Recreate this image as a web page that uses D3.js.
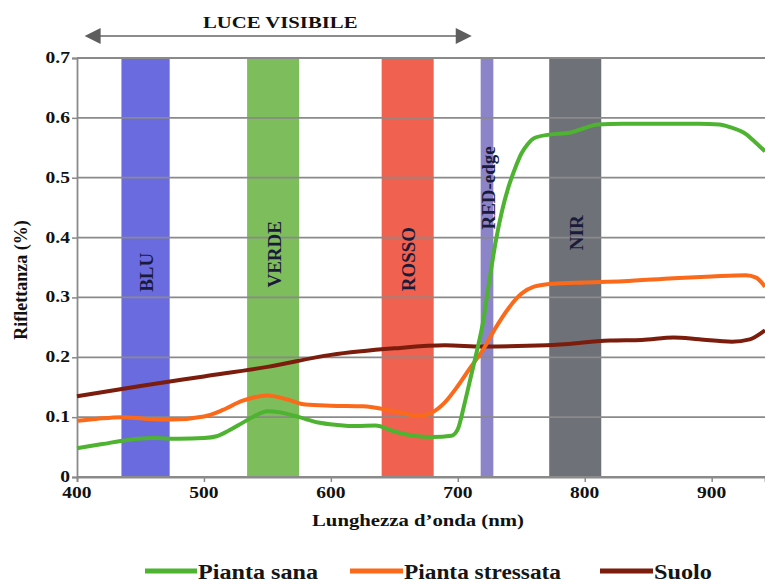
<!DOCTYPE html>
<html>
<head>
<meta charset="utf-8">
<script src="https://cdn.jsdelivr.net/npm/d3@7"></script>
<style>
  html, body { margin: 0; padding: 0; background: #fff; }
  svg { display: block; }
  svg text { font-family: "Liberation Serif", "DejaVu Serif", serif; }
</style>
</head>
<body>
<svg id="chart" width="765" height="582"></svg>
<script>
// Spectral reflectance curves (wavelength in nm, reflectance 0-1)
const sanaNm = [400,420,440,460,480,500,510,520,530,540,550,560,575,590,605,620,635,650,665,680,695,700,705,710,715,720,725,730,735,740,745,750,755,760,772,788,800,810,830,860,890,906,915,927,935,942];
const sana   = [0.048,0.055,0.062,0.065,0.064,0.065,0.068,0.078,0.090,0.102,0.110,0.108,0.100,0.091,0.087,0.085,0.086,0.076,0.069,0.067,0.069,0.080,0.120,0.165,0.210,0.260,0.330,0.395,0.446,0.485,0.515,0.540,0.556,0.566,0.572,0.575,0.583,0.589,0.590,0.590,0.590,0.589,0.584,0.573,0.558,0.544];

const stressNm = [400,415,435,455,475,500,515,530,550,565,580,600,625,650,670,680,690,700,710,720,730,740,750,760,775,800,830,870,900,927,935,942];
const stress   = [0.094,0.097,0.100,0.097,0.096,0.101,0.112,0.127,0.136,0.130,0.121,0.119,0.118,0.110,0.102,0.108,0.125,0.152,0.183,0.213,0.250,0.282,0.306,0.318,0.323,0.325,0.327,0.332,0.335,0.337,0.333,0.318];

const suoloNm = [400,450,500,550,600,650,690,720,770,820,845,870,890,916,930,942];
const suolo   = [0.135,0.152,0.168,0.184,0.204,0.215,0.220,0.218,0.220,0.228,0.229,0.233,0.230,0.226,0.230,0.245];

// Spectral bands: label, start nm, end nm
const bandNames = ["BLU", "VERDE", "ROSSO", "RED-edge", "NIR"];
const bandStart = [435, 534, 640, 718, 772];
const bandEnd   = [473, 575, 681, 728, 813];
const bandLabelCenter = [0.342, 0.372, 0.364, 0.483, 0.408];

const xTicks = [400, 500, 600, 700, 800, 900];
const yTicks = [0, 0.1, 0.2, 0.3, 0.4, 0.5, 0.6, 0.7];

const seriesNames = ["Pianta sana", "Pianta stressata", "Suolo"];
const visibleRange = [406, 711];

const bandColors = ["#6b6be0", "#7dbd5c", "#f0624f", "#8c84c8", "#6f7178"];
const seriesColors = ["#4db331", "#fb6a1a", "#7b1c0c"];
const FONT = "'Liberation Serif', 'DejaVu Serif', serif";
const STRETCH = 1.22;

const svg = d3.select("#chart");
const x = d3.scaleLinear().domain([400, 942]).range([77, 765]);
const y = d3.scaleLinear().domain([0, 0.7]).range([477, 58]);

// horizontal text helper (serif glyphs drawn slightly wide)
function htext(g, tx, ty, str, size, weight, anchor, fill) {
  return g.append("text")
    .attr("transform", `translate(${tx},${ty}) scale(${STRETCH},1)`)
    .attr("text-anchor", anchor)
    .style("font-family", FONT)
    .style("font-size", size + "px")
    .style("font-weight", weight)
    .attr("fill", fill || "#111")
    .text(str);
}

// bands
const bands = svg.append("g");
bandNames.forEach((name, i) => {
  bands.append("rect")
    .attr("x", x(bandStart[i]))
    .attr("y", y(0.7))
    .attr("width", x(bandEnd[i]) - x(bandStart[i]))
    .attr("height", y(0) - y(0.7))
    .attr("fill", bandColors[i]);
});

// gridlines
svg.append("g")
  .selectAll("line")
  .data(yTicks.slice(1))
  .join("line")
  .attr("x1", x(400)).attr("x2", 765)
  .attr("y1", d => y(d)).attr("y2", d => y(d))
  .attr("stroke", "#8a8a8a").attr("stroke-width", 1.8);

// axes
const yAxis = svg.append("g").attr("transform", `translate(${x(400)},0)`)
  .call(d3.axisLeft(y).tickValues(yTicks).tickSize(5).tickFormat(""));
const xAxis = svg.append("g").attr("transform", `translate(0,${y(0)})`)
  .call(d3.axisBottom(x).tickValues(xTicks).tickSize(5).tickFormat(""));
[yAxis, xAxis].forEach(a => {
  a.select(".domain").attr("stroke", "#8a8a8a").attr("stroke-width", 1.8);
  a.selectAll(".tick line").attr("stroke", "#8a8a8a").attr("stroke-width", 1.5);
});
// x axis line across the full width
svg.append("line").attr("x1", x(400)).attr("x2", 765)
  .attr("y1", y(0)).attr("y2", y(0))
  .attr("stroke", "#8a8a8a").attr("stroke-width", 1.8);

const labels = svg.append("g");
yTicks.forEach(v => {
  const s = v === 0 ? "0" : v.toFixed(1);
  htext(labels, 70, y(v) + 5, s, 16, "bold", "end");
});
xTicks.forEach(v => {
  htext(labels, x(v), 498, String(v), 16, "bold", "middle");
});

// band labels, rotated
bandNames.forEach((name, i) => {
  const cx = (x(bandStart[i]) + x(bandEnd[i])) / 2;
  const cy = y(bandLabelCenter[i]);
  labels.append("text")
    .attr("transform", `translate(${cx + 1},${cy}) rotate(-90)`)
    .attr("text-anchor", "middle")
    .attr("dy", "0.35em")
    .style("font-family", FONT)
    .style("font-size", "19px")
    .style("font-weight", "bold")
    .attr("fill", "#1a1a3a")
    .text(name);
});

// curves
const line = d3.line().x(d => x(d[0])).y(d => y(d[1])).curve(d3.curveMonotoneX);
const seriesData = [
  d3.zip(sanaNm, sana),
  d3.zip(stressNm, stress),
  d3.zip(suoloNm, suolo)
];
const order = [2, 1, 0];
order.forEach(i => {
  svg.append("path")
    .datum(seriesData[i])
    .attr("d", line)
    .attr("fill", "none")
    .attr("stroke", seriesColors[i])
    .attr("stroke-width", 4)
    .attr("stroke-linejoin", "round");
});

// visible-light arrow
const arrowY = 36;
svg.append("line")
  .attr("x1", x(visibleRange[0]) + 12).attr("x2", x(visibleRange[1]) - 12)
  .attr("y1", arrowY).attr("y2", arrowY)
  .attr("stroke", "#8c8c8c").attr("stroke-width", 2);
[[x(visibleRange[0]), 1], [x(visibleRange[1]), -1]].forEach(([tx, dir]) => {
  svg.append("path")
    .attr("d", `M${tx},${arrowY} L${tx + dir * 16},${arrowY - 8} L${tx + dir * 16},${arrowY + 8} Z`)
    .attr("fill", "#5e5e5e");
});
htext(labels, (x(visibleRange[0]) + x(visibleRange[1])) / 2 + 2, 28, "LUCE VISIBILE", 17, "bold", "middle");

// axis titles
htext(labels, 418, 526, "Lunghezza d’onda (nm)", 17, "bold", "middle");
labels.append("text")
  .attr("transform", `translate(27,${280}) rotate(-90)`)
  .attr("text-anchor", "middle")
  .style("font-family", FONT)
  .style("font-size", "18px")
  .style("font-weight", "bold")
  .attr("fill", "#111")
  .text("Riflettanza (%)");

// legend
const legendLineX = [[145, 197], [350, 403], [600, 653]];
const legendTextWidth = [120, 157, 58];
const legend = svg.append("g");
seriesNames.forEach((name, i) => {
  legend.append("line")
    .attr("x1", legendLineX[i][0]).attr("x2", legendLineX[i][1])
    .attr("y1", 571).attr("y2", 571)
    .attr("stroke", seriesColors[i]).attr("stroke-width", 5);
  legend.append("text")
    .attr("x", legendLineX[i][1] + 1)
    .attr("y", 579)
    .attr("textLength", legendTextWidth[i])
    .attr("lengthAdjust", "spacingAndGlyphs")
    .style("font-family", FONT)
    .style("font-size", "20px")
    .style("font-weight", "bold")
    .attr("fill", "#151515")
    .text(name);
});
</script>
</body>
</html>
